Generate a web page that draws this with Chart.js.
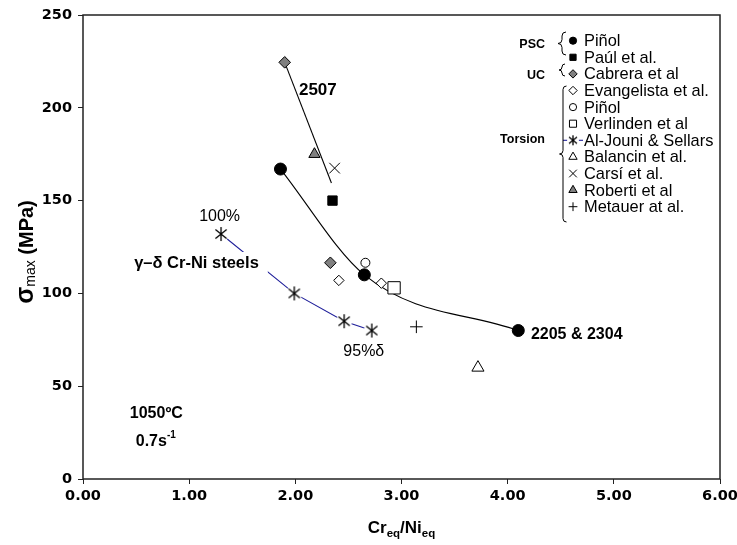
<!DOCTYPE html>
<html lang="en">
<head>
  <meta charset="UTF-8" />
  <title>Peak stress vs Creq/Nieq</title>
  <script src="https://cdn.jsdelivr.net/npm/chart.js"></script>
  <style>
    html, body {
      margin: 0;
      padding: 0;
      background: #fff;
    }
    .wrap {
      width: 737px;
      height: 545px;
    }
  </style>
</head>
<body>
  <div class="wrap">
    <canvas id="stressChart" width="737" height="545"></canvas>
  </div>

  <script>
    const FONT = 'Arial, "Liberation Sans", sans-serif';
    const TICK_FONT = '"DejaVu Sans", Arial, sans-serif';

    // series, in legend order
    const seriesNames = ['Piñol', 'Paúl et al.', 'Cabrera et al', 'Evangelista et al.', 'Piñol',
      'Verlinden et al', 'Al-Jouni & Sellars', 'Balancin et al.', 'Carsí et al.', 'Roberti et al', 'Metauer at al.'];
    const groupNames = ['PSC', 'UC', 'Torsion'];

    // Creq/Nieq (x) and peak stress in MPa (y)
    const pinolPscX = [1.86, 2.65, 4.10];
    const pinolPscY = [167, 110, 80];
    const paulX = [2.35];
    const paulY = [150];
    const cabreraX = [1.90, 2.33];
    const cabreraY = [224.5, 116.5];
    const evangelistaX = [2.41, 2.81];
    const evangelistaY = [107, 105.5];
    const pinolTorsionX = [2.66];
    const pinolTorsionY = [116.5];
    const verlindenX = [2.93];
    const verlindenY = [103];
    const alJouniX = [1.30, 1.99, 2.46, 2.72];
    const alJouniY = [132, 100, 85, 80];
    const balancinX = [3.72];
    const balancinY = [60];
    const carsiX = [2.37];
    const carsiY = [167.5];
    const robertiX = [2.18];
    const robertiY = [175];
    const metauerX = [3.14];
    const metauerY = [82];

    // trend line for 2507
    const fit2507X = [1.90, 2.34];
    const fit2507Y = [224.5, 159.5];

    const xTicks = [0, 1, 2, 3, 4, 5, 6];
    const yTicks = [0, 50, 100, 150, 200, 250];

    const pts = (xs, ys) => xs.map((x, i) => ({ x: x, y: ys[i] }));

    // asterisk marker with a white halo
    function makeAsterisk(size, halo) {
      const c = document.createElement('canvas');
      c.width = size * 2 + 4;
      c.height = size * 2 + 4;
      const g = c.getContext('2d');
      const m = c.width / 2;
      if (halo) {
        g.fillStyle = '#fff';
        g.beginPath();
        g.arc(m, m, size + 1, 0, Math.PI * 2);
        g.fill();
      }
      g.strokeStyle = '#000';
      g.lineWidth = 1.3;
      g.beginPath();
      g.moveTo(m, m - size);
      g.lineTo(m, m + size);
      const dx = size * 0.8, dy = size * 0.65;
      g.moveTo(m - dx, m - dy);
      g.lineTo(m + dx, m + dy);
      g.moveTo(m + dx, m - dy);
      g.lineTo(m - dx, m + dy);
      g.stroke();
      return c;
    }
    const asterisk = makeAsterisk(7, true);
    const asteriskSmall = makeAsterisk(5, true);

    const markers = [
      { style: 'circle', r: 6, fill: '#000', lr: 3.6 },
      { style: 'rect', r: 6.6, fill: '#000', lr: 4.4 },
      { style: 'rectRot', r: 5.8, fill: '#808080', lr: 4.2 },
      { style: 'rectRot', r: 5.2, fill: '#fff', lr: 4.2 },
      { style: 'circle', r: 4.5, fill: '#fff', lr: 3.6 },
      { style: 'rect', r: 8.7, fill: '#fff', lr: 5 },
      { style: asterisk, r: 7, fill: '#fff', lr: 5, legendImg: asteriskSmall },
      { style: 'triangle', r: 7, fill: '#fff', lr: 4.8 },
      { style: 'crossRot', r: 7.5, fill: '#fff', lr: 5.4 },
      { style: 'triangle', r: 6.5, fill: '#808080', lr: 4.8 },
      { style: 'cross', r: 6.3, fill: '#fff', lr: 4.4 }
    ];

    const seriesData = [
      pts(pinolPscX, pinolPscY),
      pts(paulX, paulY),
      pts(cabreraX, cabreraY),
      pts(evangelistaX, evangelistaY),
      pts(pinolTorsionX, pinolTorsionY),
      pts(verlindenX, verlindenY),
      pts(alJouniX, alJouniY),
      pts(balancinX, balancinY),
      pts(carsiX, carsiY),
      pts(robertiX, robertiY),
      pts(metauerX, metauerY)
    ];

    const markerSets = seriesData.map((data, i) => ({
      label: seriesNames[i],
      data: data,
      showLine: false,
      pointStyle: markers[i].style,
      pointRadius: markers[i].r,
      pointHoverRadius: markers[i].r,
      pointBackgroundColor: markers[i].fill,
      pointBorderColor: '#000',
      pointBorderWidth: 1,
      order: 0
    }));

    const lineSets = [
      {
        label: 'PSC fit',
        data: pts(pinolPscX, pinolPscY),
        showLine: true,
        cubicInterpolationMode: 'monotone',
        borderColor: '#000',
        borderWidth: 1.1,
        pointRadius: 0,
        order: 20
      },
      {
        label: '2507 fit',
        data: pts(fit2507X, fit2507Y),
        showLine: true,
        borderColor: '#000',
        borderWidth: 1.1,
        pointRadius: 0,
        order: 20
      },
      {
        label: 'Al-Jouni line',
        data: pts(alJouniX, alJouniY),
        showLine: true,
        borderColor: '#1f1f9a',
        borderWidth: 1.1,
        pointRadius: 0,
        order: 20
      }
    ];

    // free text placed in data coordinates
    const notes = [
      { text: '2507', x: 2.212, y: 209.6, font: 'bold 17px ' + FONT, align: 'center' },
      { text: '100%', x: 1.287, y: 141.2, font: '16px ' + FONT, align: 'center' },
      { text: 'γ–δ Cr-Ni steels', x: 1.656, y: 116.4, font: 'bold 16.5px ' + FONT, align: 'right', box: true },
      { text: '95%δ', x: 2.645, y: 68.4, font: '16px ' + FONT, align: 'center' },
      { text: '2205 & 2304', x: 4.219, y: 77.6, font: 'bold 16px ' + FONT, align: 'left' },
      { text: '1050ºC', x: 0.441, y: 35.0, font: 'bold 16px ' + FONT, align: 'left' }
    ];

    function drawMarker(ctx, m, x, y, r) {
      ctx.save();
      ctx.fillStyle = m.fill;
      ctx.strokeStyle = '#000';
      ctx.lineWidth = 1;
      ctx.beginPath();
      if (typeof m.style !== 'string') {
        const img = m.legendImg || m.style;
        ctx.drawImage(img, x - img.width / 2, y - img.height / 2);
        ctx.restore();
        return;
      }
      if (m.style === 'circle') {
        ctx.arc(x, y, r, 0, Math.PI * 2);
        ctx.fill();
        ctx.stroke();
      } else if (m.style === 'rect') {
        const s = r * Math.SQRT1_2;
        ctx.rect(x - s, y - s, 2 * s, 2 * s);
        ctx.fill();
        ctx.stroke();
      } else if (m.style === 'rectRot') {
        ctx.moveTo(x, y - r);
        ctx.lineTo(x + r, y);
        ctx.lineTo(x, y + r);
        ctx.lineTo(x - r, y);
        ctx.closePath();
        ctx.fill();
        ctx.stroke();
      } else if (m.style === 'triangle') {
        ctx.moveTo(x, y - r);
        ctx.lineTo(x + r * 0.866, y + r / 2);
        ctx.lineTo(x - r * 0.866, y + r / 2);
        ctx.closePath();
        ctx.fill();
        ctx.stroke();
      } else if (m.style === 'cross') {
        ctx.moveTo(x - r, y);
        ctx.lineTo(x + r, y);
        ctx.moveTo(x, y - r);
        ctx.lineTo(x, y + r);
        ctx.stroke();
      } else if (m.style === 'crossRot') {
        const d = r * Math.SQRT1_2;
        ctx.moveTo(x - d, y - d);
        ctx.lineTo(x + d, y + d);
        ctx.moveTo(x + d, y - d);
        ctx.lineTo(x - d, y + d);
        ctx.stroke();
      }
      ctx.restore();
    }

    function drawBrace(ctx, x, y1, y2, w) {
      const m = (y1 + y2) / 2;
      ctx.beginPath();
      ctx.moveTo(x + w, y1);
      ctx.quadraticCurveTo(x, y1, x, y1 + w);
      ctx.lineTo(x, m - w);
      ctx.quadraticCurveTo(x, m, x - w, m);
      ctx.quadraticCurveTo(x, m, x, m + w);
      ctx.lineTo(x, y2 - w);
      ctx.quadraticCurveTo(x, y2, x + w, y2);
      ctx.stroke();
    }

    // draws text pieces in a row, small ones shifted as sub/superscripts
    function drawPieces(ctx, pieces, x, y, align) {
      let total = 0;
      pieces.forEach(p => { ctx.font = p.font; total += ctx.measureText(p.text).width; });
      let cx = align === 'center' ? x - total / 2 : x;
      ctx.textAlign = 'left';
      ctx.textBaseline = 'alphabetic';
      pieces.forEach(p => {
        ctx.font = p.font;
        ctx.fillText(p.text, cx, y + (p.dy || 0));
        cx += ctx.measureText(p.text).width;
      });
    }

    const decorations = {
      id: 'decorations',
      afterDatasetsDraw(chart) {
        const ctx = chart.ctx;
        const xs = chart.scales.x;
        const ys = chart.scales.y;
        ctx.save();
        ctx.fillStyle = '#000';
        notes.forEach(n => {
          const px = xs.getPixelForValue(n.x);
          const py = ys.getPixelForValue(n.y);
          ctx.font = n.font;
          ctx.textAlign = n.align;
          ctx.textBaseline = 'middle';
          if (n.box) {
            const w = ctx.measureText(n.text).width;
            const left = n.align === 'right' ? px - w : px;
            ctx.fillStyle = '#fff';
            ctx.fillRect(left - 3, py - 11, w + 12, 22);
            ctx.fillStyle = '#000';
          }
          ctx.fillText(n.text, px, py);
        });

        // strain rate with superscript
        const sx = xs.getPixelForValue(0.497);
        const sy = ys.getPixelForValue(21.0) + 6;
        drawPieces(ctx, [
          { text: '0.7s', font: 'bold 16px ' + FONT },
          { text: '-1', font: 'bold 10px ' + FONT, dy: -8 }
        ], sx, sy, 'left');
        ctx.restore();
      },
      afterDraw(chart) {
        const ctx = chart.ctx;
        const a = chart.chartArea;
        ctx.save();

        // frame
        ctx.strokeStyle = '#222';
        ctx.lineWidth = 1.5;
        ctx.strokeRect(a.left, a.top, a.right - a.left, a.bottom - a.top);

        // legend
        const mx = 573, tx = 584, y0 = 40.7, step = 16.6;
        ctx.fillStyle = '#000';
        ctx.font = '16.4px ' + FONT;
        ctx.textAlign = 'left';
        ctx.textBaseline = 'middle';
        seriesNames.forEach((name, i) => {
          const y = y0 + i * step;
          if (i === 6) {
            ctx.strokeStyle = '#1f1f9a';
            ctx.lineWidth = 1.1;
            ctx.beginPath();
            ctx.moveTo(563, y);
            ctx.lineTo(583, y);
            ctx.stroke();
          }
          drawMarker(ctx, markers[i], mx, y, markers[i].lr);
          ctx.fillStyle = '#000';
          ctx.fillText(name, tx, y + 1);
        });

        ctx.font = 'bold 12.5px ' + FONT;
        ctx.textAlign = 'right';
        ctx.fillText(groupNames[0], 545, 44.5);
        ctx.fillText(groupNames[1], 545, 76);
        ctx.fillText(groupNames[2], 545, 139.5);

        ctx.strokeStyle = '#000';
        ctx.lineWidth = 1;
        drawBrace(ctx, 562, 32, 55, 4);
        drawBrace(ctx, 562, 64, 76, 3);
        drawBrace(ctx, 563, 86, 222, 3.5);

        // axis titles
        ctx.fillStyle = '#000';
        drawPieces(ctx, [
          { text: 'Cr', font: 'bold 17px ' + FONT },
          { text: 'eq', font: 'bold 11.5px ' + FONT, dy: 4 },
          { text: '/Ni', font: 'bold 17px ' + FONT },
          { text: 'eq', font: 'bold 11.5px ' + FONT, dy: 4 }
        ], (a.left + a.right) / 2, 533, 'center');

        ctx.translate(33, 252);
        ctx.rotate(-Math.PI / 2);
        drawPieces(ctx, [
          { text: 'σ', font: 'bold 25px ' + FONT },
          { text: 'max', font: '14px ' + FONT, dy: 2 },
          { text: ' (MPa)', font: 'bold 20px ' + FONT }
        ], 0, 0, 'center');
        ctx.restore();
      }
    };

    const axisFont = { family: TICK_FONT, size: 14.5, weight: 'bold' };

    new Chart(document.getElementById('stressChart'), {
      type: 'scatter',
      data: { datasets: markerSets.concat(lineSets) },
      options: {
        responsive: false,
        animation: false,
        layout: { padding: { top: 15, right: 17, left: 0, bottom: 0 } },
        plugins: {
          legend: { display: false },
          tooltip: { enabled: false }
        },
        scales: {
          x: {
            type: 'linear',
            min: xTicks[0],
            max: xTicks[xTicks.length - 1],
            afterBuildTicks: s => { s.ticks = xTicks.map(v => ({ value: v })); },
            ticks: {
              callback: v => Number(v).toFixed(2),
              font: axisFont,
              color: '#000',
              padding: 4,
              maxRotation: 0
            },
            grid: { drawOnChartArea: false, drawTicks: true, tickLength: 5, tickColor: '#222' },
            border: { display: false },
            afterFit: s => {
              s.height = 66;
              s.paddingLeft = 0;
              s.paddingRight = 0;
            }
          },
          y: {
            type: 'linear',
            min: yTicks[0],
            max: yTicks[yTicks.length - 1],
            afterBuildTicks: s => { s.ticks = yTicks.map(v => ({ value: v })); },
            ticks: {
              font: axisFont,
              color: '#000',
              padding: 6
            },
            grid: { drawOnChartArea: false, drawTicks: true, tickLength: 5, tickColor: '#222' },
            border: { display: false },
            afterFit: s => {
              s.width = 83;
              s.paddingTop = 0;
              s.paddingBottom = 0;
            }
          }
        }
      },
      plugins: [decorations]
    });
  </script>
</body>
</html>
